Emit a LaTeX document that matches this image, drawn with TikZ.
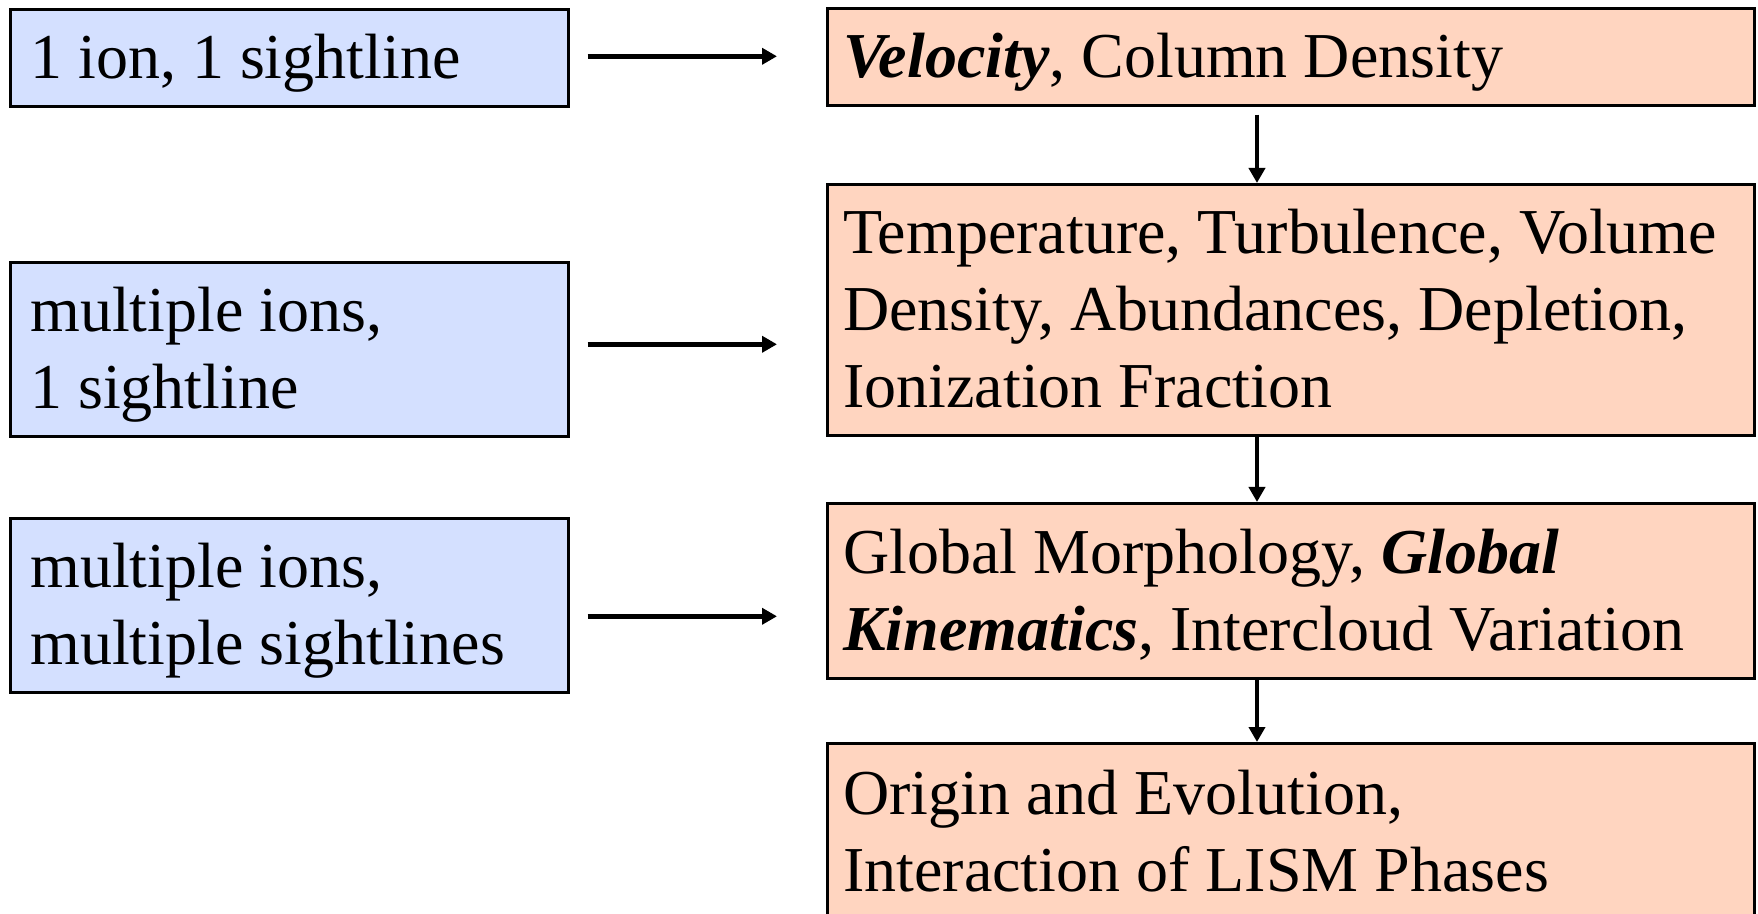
\documentclass[tikz,border=0pt]{standalone}
\usepackage{fontspec}
\setmainfont{Liberation Serif}
\usepackage{tikz}
\usetikzlibrary{arrows.meta}

\definecolor{ionblue}{RGB}{212,224,255}
\definecolor{peach}{RGB}{255,213,192}

\tikzset{
  box/.style={draw, line width=1.3pt, anchor=north west, align=flush left,
    inner ysep=0pt, font=\fontsize{32}{38.5}\selectfont,
    execute at begin node=\rule{0pt}{29.2pt},
    execute at end node=\rule[-8pt]{0pt}{8pt}},
  obs/.style={box, fill=ionblue, inner xsep=10pt, text width=259pt},
  res/.style={box, fill=peach, inner xsep=8pt, text width=447.5pt},
  flow/.style={line width=2.4pt, -{Triangle[length=7.5pt,width=8pt]}}
}

\begin{document}
\begin{tikzpicture}[x=0.5pt,y=-0.5pt]
  \useasboundingbox (0,0) rectangle (1758,914);

  % what is measured
  \node[obs, minimum height=48.5pt] (b1) at (9,8) {1 ion, 1 sightline};
  \node[obs, minimum height=87pt] (b2) at (9,261) {multiple ions,\\1 sightline};
  \node[obs, minimum height=87pt] (b3) at (9,517) {multiple ions,\\multiple sightlines};

  % what it gives
  \node[res, minimum height=48.5pt] (o1) at (826,7) {\textbf{\textit{Velocity}}, Column Density};
  \node[res, minimum height=125.5pt] (o2) at (826,183) {Temperature, Turbulence, Volume\\Density, Abundances, Depletion,\\Ionization Fraction};
  \node[res, minimum height=87.5pt] (o3) at (826,502) {Global Morphology, \textbf{\textit{Global}}\\\textbf{\textit{Kinematics}}, Intercloud Variation};
  \node[res, minimum height=88pt] (o4) at (826,742) {Origin and Evolution,\\Interaction of LISM Phases};

  % left to right
  \foreach \a/\b/\dy in {
    b1/o1/0.75pt,
    b2/o2/2.5pt,
    b3/o3/-5.5pt%
  } {
    \coordinate (s\a) at ([yshift=\dy]\a.east);
    \draw[flow, shorten <=9pt, shorten >=24.5pt] (s\a) -- (s\a -| \b.west);
  }

  % down the chain
  \foreach \a/\b/\s in {
    o1/o2/4pt,
    o2/o3/0pt,
    o3/o4/0pt%
  } {
    \coordinate (t\a) at ([xshift=215.5pt]\a.south west);
    \draw[flow, shorten <=\s] (t\a) -- (t\a |- \b.north);
  }
\end{tikzpicture}
\end{document}
